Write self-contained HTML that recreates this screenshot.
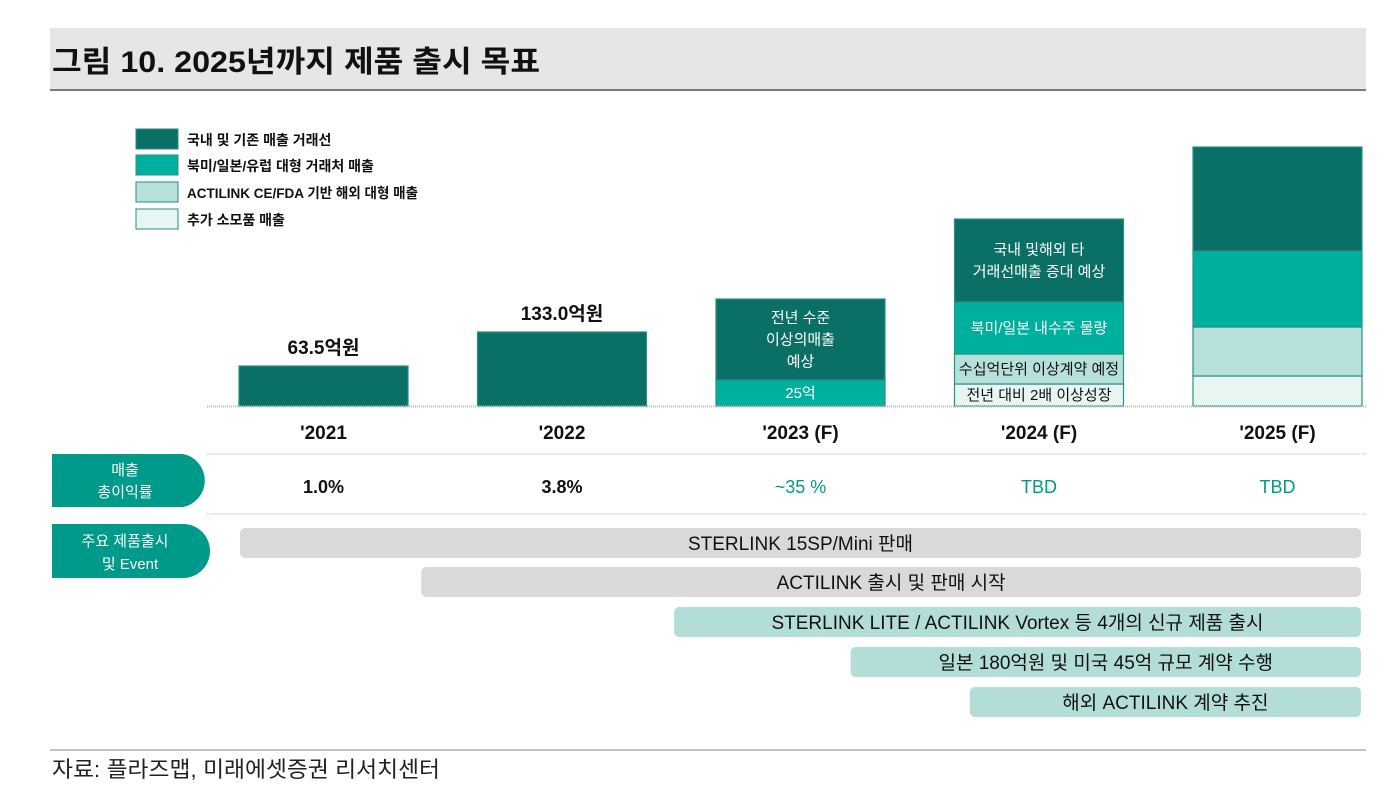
<!DOCTYPE html>
<html><head><meta charset="utf-8">
<style>
html,body{margin:0;padding:0;background:#fff;}
body{width:1394px;height:784px;overflow:hidden;font-family:"Liberation Sans","Noto Sans CJK KR",sans-serif;}
svg text{font-family:"Liberation Sans","Noto Sans CJK KR",sans-serif;}
</style></head>
<body>
<svg id="chart" width="1394" height="784" xmlns="http://www.w3.org/2000/svg">
  <rect x="50" y="28" width="1316" height="61" fill="#e6e6e6"/>
  <line x1="50" y1="90" x2="1366" y2="90" stroke="#7a7a7a" stroke-width="2"/>
  <text x="52" y="72" font-size="30" font-weight="bold" fill="#111" textLength="488" lengthAdjust="spacingAndGlyphs">그림 10. 2025년까지 제품 출시 목표</text>

  <g>
    <rect x="136" y="129" width="42" height="20" fill="#0a7066" stroke="#2a8f84"/>
    <text x="187" y="145" font-size="14" font-weight="bold" fill="#111">국내 및 기존 매출 거래선</text>
    <rect x="136" y="155" width="42" height="20" fill="#00b09e" stroke="#2a8f84"/>
    <text x="187" y="171" font-size="14" font-weight="bold" fill="#111">북미/일본/유럽 대형 거래처 매출</text>
    <rect x="136" y="182" width="42" height="20" fill="#b6e0da" stroke="#2a8f84"/>
    <text x="187" y="198" font-size="14" font-weight="bold" fill="#111" textLength="231" lengthAdjust="spacingAndGlyphs">ACTILINK CE/FDA 기반 해외 대형 매출</text>
    <rect x="136" y="209" width="42" height="20" fill="#e7f5f3" stroke="#2a8f84"/>
    <text x="187" y="225" font-size="14" font-weight="bold" fill="#111">추가 소모품 매출</text>
  </g>

  <g id="bars"></g>
  <line x1="207" y1="406.5" x2="1366" y2="406.5" stroke="#bbb" stroke-width="2" stroke-dasharray="1 1"/>
  <g id="labels"></g>

  <line x1="207" y1="454" x2="1366" y2="454" stroke="#bbb" stroke-dasharray="1 1"/>
  <line x1="207" y1="514" x2="1366" y2="514" stroke="#bbb" stroke-dasharray="1 1"/>
  <path d="M52 454 H183 A27 27 0 0 1 183 507 H52 Z" fill="#009a8b"/>
  <text x="125" y="475" font-size="15" fill="#fff" text-anchor="middle">매출</text>
  <text x="125" y="497" font-size="15" fill="#fff" text-anchor="middle">총이익률</text>
  <path d="M52 524 H183 A27 27 0 0 1 183 578 H52 Z" fill="#009a8b"/>
  <text x="125" y="546" font-size="15" fill="#fff" text-anchor="middle">주요 제품출시</text>
  <text x="130" y="569" font-size="15" fill="#fff" text-anchor="middle">및 Event</text>
  <g id="margins"></g>
  <g id="gantt"></g>

  <line x1="50" y1="750" x2="1366" y2="750" stroke="#888"/>
  <text x="52" y="777" font-size="22" fill="#222" textLength="388" lengthAdjust="spacingAndGlyphs">자료: 플라즈맵, 미래에셋증권 리서치센터</text>
</svg>
<script>
const categories = ["'2021","'2022","'2023 (F)","'2024 (F)","'2025 (F)"];
const domestic = [40, 74, 81, 83, 104];
const naJpEu = [0, 0, 26, 52, 76];
const actilink = [0, 0, 0, 30, 49];
const consumables = [0, 0, 0, 22, 30];
const topLabels = ["63.5억원","133.0억원","","",""];
const margins = ["1.0%","3.8%","~35 %","TBD","TBD"];
const eventNames = ["STERLINK 15SP/Mini 판매","ACTILINK 출시 및 판매 시작","STERLINK LITE / ACTILINK Vortex 등 4개의 신규 제품 출시","일본 180억원 및 미국 45억 규모 계약 수행","해외 ACTILINK 계약 추진"];
const eventStart = [2021.0, 2021.76, 2022.82, 2023.56, 2024.06];
const eventEnd = [2025.7, 2025.7, 2025.7, 2025.7, 2025.7];
const NS = "http://www.w3.org/2000/svg";
const baseY = 406, bandW = 238.5, x0 = 239, barW = 169;
const yScale = v => v * 1.0;
const xBand = i => x0 + i * bandW;
const xYear = y => 240 + (y - 2021) * 238.5;
function mk(tag, attrs, parent){const e=document.createElementNS(NS,tag);for(const k in attrs)e.setAttribute(k,attrs[k]);parent.appendChild(e);return e;}
const bars=document.getElementById('bars'), labels=document.getElementById('labels'), mg=document.getElementById('margins'), gantt=document.getElementById('gantt');
const series=[[consumables,'#e7f5f3','consumables'],[actilink,'#b6e0da','actilink'],[naJpEu,'#00b09e','na-jp-eu'],[domestic,'#0a7066','domestic']];
const segTexts={2:{domestic:["전년 수준","이상의매출","예상"],"na-jp-eu":["25억"]},3:{domestic:["국내 및해외 타","거래선매출 증대 예상"],"na-jp-eu":["북미/일본 내수주 물량"],actilink:["수십억단위 이상계약 예정"],consumables:["전년 대비 2배 이상성장"]}};
categories.forEach((c,i)=>{
  let y=baseY;
  series.forEach(([arr,col,nm])=>{
    const h=yScale(arr[i]); if(h<=0)return;
    y-=h;
    const r=mk('rect',{x:xBand(i),y:y,width:barW,height:h,fill:col,stroke:'#2a8f84','stroke-width':1.2},bars);
    
    
    const tl=(segTexts[i]||{})[nm];
    if(tl){
      const dark=(nm==='domestic'||nm==='na-jp-eu');
      const fs=15, lh=22;
      const cy=y+h/2-(tl.length-1)*lh/2+5;
      tl.forEach((s,k)=>{
        const t=mk('text',{x:xBand(i)+barW/2,y:cy+k*lh,'font-size':fs,fill:dark?'#fff':'#111','text-anchor':'middle'},bars);
        t.textContent=s;
        
        
      });
    }
  });
  if(topLabels[i]){
    const t=mk('text',{x:xBand(i)+barW/2,y:y-12,'font-size':19,'font-weight':'bold',fill:'#111','text-anchor':'middle'},labels);
    t.textContent=topLabels[i];
    
    
  }
  const t=mk('text',{x:xBand(i)+barW/2,y:439,'font-size':19,'font-weight':'bold',fill:'#111','text-anchor':'middle'},labels);
  t.textContent=c;
  
  
  const m=mk('text',{x:xBand(i)+barW/2,y:493,'font-size':18,'font-weight':i<2?'bold':'normal',fill:i<2?'#111':'#009a8b','text-anchor':'middle'},mg);
  m.textContent=margins[i];
  
  
});
const gTop=[528,567,607,647,687];
eventNames.forEach((n,i)=>{
  const xa=xYear(eventStart[i]), xb=xYear(eventEnd[i]);
  const r=mk('rect',{x:xa,y:gTop[i],width:xb-xa,height:30,rx:5,fill:i<2?'#d9d9d9':'#b3ded7'},gantt);
  
  
  const t=mk('text',{x:(xa+xb)/2,y:gTop[i]+22,'font-size':19,fill:'#111','text-anchor':'middle'},gantt);
  t.textContent=n;
  
  
});
</script>
</body></html>
